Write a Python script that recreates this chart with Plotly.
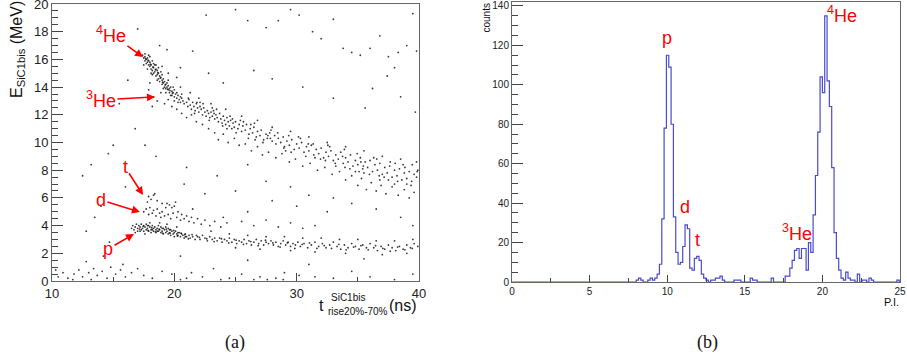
import plotly.graph_objects as go

W, H = 907, 364

# ---------------- panel (a): E_SiC1bis (MeV) vs t_rise (ns) ----------------
he4_head = [
    (17.4, 16.3), (17.5, 16.1), (17.6, 16.2), (17.6, 15.9), (17.7, 16.0), (17.7, 15.7), (17.8, 16.1), (17.8, 15.8),
    (17.9, 15.6), (17.9, 15.9), (18.0, 15.5), (18.0, 15.8), (18.1, 15.3), (18.1, 15.6), (18.2, 15.9), (18.2, 15.2),
    (18.3, 15.4), (18.3, 15.0), (18.4, 15.6), (18.4, 15.1), (18.5, 14.8), (18.5, 15.3), (18.6, 14.9), (18.6, 15.2),
    (18.7, 14.6), (18.7, 15.0), (18.8, 14.8), (18.8, 14.4), (18.9, 14.7), (18.9, 15.1), (19.0, 14.5), (19.0, 14.2),
    (19.1, 14.6), (19.1, 14.3), (19.2, 14.0), (19.2, 14.4), (19.3, 14.2), (19.3, 13.9), (19.4, 14.3), (19.4, 14.0),
    (19.5, 13.8), (19.5, 14.1), (19.6, 13.9), (19.6, 13.6), (19.7, 14.0), (19.8, 13.7), (19.8, 13.4), (19.9, 13.6),
    (20.0, 13.3), (20.0, 13.8), (20.1, 13.5), (20.2, 13.2), (20.2, 13.6), (20.3, 13.4), (20.4, 13.1), (20.5, 13.3),
    (20.5, 12.9), (20.6, 13.2), (20.7, 13.0), (20.8, 12.8), (17.5, 15.6), (17.8, 15.3), (18.0, 16.2), (18.2, 14.9),
    (18.5, 15.6), (18.6, 14.5), (19.0, 14.9), (19.3, 13.6), (19.7, 13.4), (20.0, 13.0), (17.6, 16.4), (17.9, 16.3),
    (18.1, 15.0), (18.3, 15.7), (18.7, 15.4), (19.1, 13.9), (19.5, 14.5), (19.9, 14.0), (20.3, 12.9), (20.6, 13.5),
    (17.65, 16.05), (17.85, 15.95), (18.05, 15.65), (18.25, 15.45), (18.45, 15.25), (18.65, 15.05), (18.85, 14.65),
    (19.05, 14.35), (19.25, 14.15), (19.45, 13.85), (19.65, 13.75), (19.85, 13.55),
]
he4_tail = [
    (21.0, 12.9), (21.1, 12.6), (21.2, 13.1), (21.3, 12.7), (21.4, 12.4), (21.5, 12.9), (21.6, 12.6), (21.7, 12.3),
    (21.8, 12.8), (21.9, 12.5), (22.0, 12.2), (22.1, 12.6), (22.2, 12.4), (22.3, 12.0), (22.4, 12.5), (22.5, 12.2),
    (22.6, 11.9), (22.7, 12.3), (22.8, 12.1), (22.9, 11.8), (23.0, 12.2), (23.1, 11.9), (23.2, 12.3), (23.3, 11.7),
    (23.4, 12.0), (23.5, 11.8), (23.6, 11.5), (23.7, 12.1), (23.8, 11.7), (23.9, 11.4), (24.0, 11.9), (24.1, 11.6),
    (24.2, 11.3), (24.3, 11.8), (24.4, 11.5), (24.5, 11.2), (24.6, 11.6), (24.7, 11.0), (24.8, 11.4), (24.9, 11.1),
    (25.0, 11.5), (25.2, 11.0), (25.3, 11.3), (25.5, 10.8), (25.6, 11.2), (25.8, 10.9), (25.9, 11.3), (26.1, 10.6),
    (26.2, 11.0), (26.4, 10.7), (26.5, 11.1), (26.7, 10.4), (26.8, 10.8), (27.0, 10.5), (27.1, 10.9), (27.3, 10.2),
    (27.5, 10.6), (27.6, 10.3), (27.8, 10.7), (28.0, 10.1), (28.2, 10.5), (28.3, 9.9), (28.5, 10.3), (28.7, 10.0),
    (28.9, 10.4), (29.0, 9.7), (29.2, 10.1), (29.4, 9.8), (29.6, 10.2), (29.8, 9.5), (30.0, 9.9), (30.2, 9.6),
    (30.4, 10.0), (30.6, 9.3), (30.8, 9.7), (31.0, 9.4), (31.2, 9.8), (31.4, 9.1), (31.6, 9.5), (31.8, 9.2),
    (32.0, 9.6), (32.2, 8.9), (32.4, 9.3), (32.6, 9.0), (32.8, 9.4), (33.0, 8.7), (33.2, 9.1), (33.4, 8.8),
    (33.6, 9.3), (33.8, 8.5), (34.0, 8.9), (34.2, 8.6), (34.4, 9.1), (34.6, 8.3), (34.8, 8.7), (35.0, 8.4),
    (35.2, 8.9), (35.4, 8.1), (35.6, 8.6), (35.8, 8.2), (36.0, 8.7), (36.2, 7.9), (36.4, 8.4), (36.6, 8.0),
    (36.8, 8.5), (37.0, 7.7), (37.2, 8.2), (37.4, 7.8), (37.6, 8.3), (37.8, 7.5), (38.0, 8.0), (38.2, 7.6),
    (38.4, 8.1), (38.6, 7.3), (38.8, 7.8), (39.0, 7.4), (39.2, 7.9), (39.4, 7.2), (39.6, 7.7), (39.8, 7.5),
    (39.9, 8.0), (22.1, 12.9), (23.1, 12.5), (24.3, 11.0), (25.4, 11.6), (26.6, 10.2), (27.9, 10.9), (29.1, 9.4),
    (30.3, 10.3), (31.5, 8.9), (32.7, 9.7), (33.9, 9.5), (35.1, 7.9), (36.3, 8.9), (37.5, 7.3), (38.7, 8.4),
]
he4_extra = [
    (21.15, 13.2), (21.65, 12.1), (22.35, 12.8), (22.85, 11.6), (23.45, 12.4), (23.95, 11.2), (24.55, 11.9),
    (25.05, 10.7), (25.65, 11.5), (26.05, 10.3), (26.55, 11.4), (27.25, 10.0), (27.85, 10.3), (28.45, 10.7),
    (28.95, 9.6), (29.55, 9.3), (30.15, 10.4), (30.75, 9.0), (31.35, 9.9), (31.95, 8.8), (32.55, 9.8),
    (33.15, 8.5), (33.75, 9.0), (34.35, 8.1), (34.95, 9.2), (35.45, 8.3), (35.95, 7.7), (36.55, 8.8),
    (37.15, 7.5), (37.65, 8.6), (38.25, 7.2), (38.85, 8.2), (39.35, 6.9), (39.85, 7.9), (39.45, 8.4),
    (38.05, 8.5), (36.75, 7.6), (35.25, 8.6), (33.95, 8.2), (32.35, 8.7), (30.95, 9.9), (29.35, 10.5),
    (27.65, 10.5), (26.25, 11.3), (24.75, 11.7), (23.25, 12.1), (21.85, 12.9),
]
he4_spread = [
    (18.3, 13.3), (18.6, 13.0), (18.9, 13.6), (19.2, 12.8), (19.5, 13.1), (19.8, 12.6), (20.2, 12.4), (20.6, 12.1),
    (21.0, 11.8), (21.4, 12.0), (21.8, 11.5), (22.3, 11.3), (22.8, 11.0), (23.3, 10.7), (23.6, 10.2), (24.0, 10.6),
    (24.4, 10.0), (24.9, 10.3), (25.3, 9.8), (25.8, 9.9), (26.3, 9.4), (26.8, 9.7), (27.2, 9.1), (27.7, 9.3),
    (28.3, 8.9), (28.8, 9.2), (29.4, 8.6), (29.9, 8.8), (30.5, 8.3), (31.1, 8.5), (31.7, 8.0), (32.3, 8.2),
    (32.9, 7.7), (33.5, 7.9), (34.0, 7.3), (34.5, 7.6), (35.0, 6.9), (35.3, 7.4), (35.7, 6.6), (36.1, 7.1),
    (36.5, 6.5), (36.9, 6.9), (37.3, 6.3), (37.8, 6.8), (38.3, 6.2), (38.8, 6.6), (39.2, 6.0), (39.6, 6.4),
    (35.5, 7.8), (36.8, 7.3), (38.0, 7.0), (39.0, 7.0), (34.8, 7.9), (33.2, 8.3),
    (20.5, 14.0), (21.3, 13.6), (22.0, 13.2), (23.0, 12.8), (24.2, 12.4), (25.5, 11.9), (26.8, 11.6), (28.0, 11.1),
    (29.5, 10.8), (31.0, 10.4), (32.5, 10.0), (34.0, 9.7), (35.5, 9.4), (37.0, 9.0), (38.5, 8.8), (39.8, 8.6),
    (19.0, 15.5), (19.5, 15.0), (20.2, 14.7), (18.0, 14.3), (17.9, 13.8), (18.2, 12.6),
]
p_head = [
    (16.5, 3.8), (16.6, 4.0), (16.7, 3.7), (16.8, 3.9), (16.9, 4.1), (17.0, 3.8), (17.0, 3.6), (17.1, 4.0),
    (17.2, 3.9), (17.3, 3.7), (17.3, 4.1), (17.4, 3.8), (17.5, 3.6), (17.5, 4.0), (17.6, 3.9), (17.7, 3.7),
    (17.7, 4.1), (17.8, 3.8), (17.9, 3.6), (17.9, 4.0), (18.0, 3.9), (18.1, 3.7), (18.1, 3.5), (18.2, 4.0),
    (18.3, 3.8), (18.3, 3.6), (18.4, 3.9), (18.5, 3.7), (18.5, 3.5), (18.6, 3.8), (18.7, 3.6), (18.7, 4.0),
    (18.8, 3.7), (18.9, 3.5), (18.9, 3.9), (19.0, 3.6), (19.1, 3.8), (19.1, 3.4), (19.2, 3.7), (19.3, 3.5),
    (19.3, 3.9), (19.4, 3.6), (19.5, 3.4), (19.5, 3.8), (19.6, 3.5), (19.7, 3.7), (19.7, 3.3), (19.8, 3.6),
    (19.9, 3.4), (20.0, 3.5), (20.0, 3.2), (20.1, 3.6), (20.2, 3.4), (20.3, 3.3), (20.4, 3.5), (20.5, 3.2),
    (20.6, 3.4), (20.7, 3.3), (20.8, 3.1), (20.9, 3.4), (21.0, 3.2), (21.2, 3.3), (21.3, 3.1), (21.5, 3.2),
    (21.7, 3.0), (21.8, 3.3), (16.8, 3.5), (17.6, 3.4), (18.0, 4.2), (18.8, 4.2), (19.4, 4.1), (20.2, 3.9),
    (17.2, 3.6), (17.8, 4.0), (18.2, 3.7), (18.6, 3.6), (19.0, 3.8), (19.6, 3.7), (20.3, 3.5), (20.9, 3.2),
]
p_tail = [
    (21.9, 3.2), (22.1, 3.0), (22.3, 3.3), (22.5, 3.1), (22.7, 2.9), (22.9, 3.2), (23.1, 3.0), (23.3, 3.1),
    (23.5, 2.9), (23.7, 3.1), (23.9, 2.8), (24.1, 3.0), (24.3, 2.9), (24.5, 3.1), (24.7, 2.8), (24.9, 3.0),
    (25.1, 2.7), (25.3, 2.9), (25.5, 2.8), (25.7, 3.0), (25.9, 2.7), (26.1, 2.9), (26.3, 2.6), (26.5, 2.8),
    (26.7, 3.0), (26.9, 2.7), (27.1, 2.9), (27.3, 2.6), (27.5, 2.8), (27.7, 2.7), (27.9, 2.9), (28.1, 2.6),
    (28.3, 2.8), (28.5, 2.5), (28.7, 2.7), (28.9, 2.9), (29.1, 2.6), (29.3, 2.8), (29.5, 2.5), (29.7, 2.7),
    (29.9, 2.6), (30.1, 2.8), (30.3, 2.5), (30.6, 2.7), (30.9, 2.4), (31.2, 2.6), (31.5, 2.8), (31.8, 2.5),
    (32.1, 2.7), (32.4, 2.4), (32.7, 2.6), (33.0, 2.8), (33.3, 2.5), (33.6, 2.3), (33.9, 2.6), (34.2, 2.4),
    (34.5, 2.7), (34.8, 2.5), (35.1, 2.3), (35.4, 2.6), (35.7, 2.4), (36.0, 2.7), (36.3, 2.4), (36.6, 2.2),
    (36.9, 2.5), (37.2, 2.3), (37.5, 2.6), (37.8, 2.4), (38.1, 2.2), (38.4, 2.5), (38.7, 2.3), (39.0, 2.6),
    (39.3, 2.4), (39.6, 2.7), (39.9, 2.5),
    (23.0, 3.6), (24.5, 3.4), (26.0, 3.3), (27.5, 3.2), (29.0, 3.2), (30.5, 3.1), (32.0, 3.1), (33.5, 3.0),
    (35.0, 3.0), (36.5, 2.9), (38.0, 2.9), (39.5, 3.0), (25.0, 2.4), (27.0, 2.3), (29.5, 2.2), (31.5, 2.1),
    (34.0, 2.0), (37.0, 1.9), (39.0, 2.0),
]
p_extra = [
    (17.15, 3.75), (17.45, 3.95), (17.85, 3.65), (18.15, 3.85), (18.45, 3.55), (18.75, 3.75), (19.05, 3.45),
    (19.35, 3.75), (19.65, 3.45), (19.95, 3.65), (20.25, 3.25), (20.55, 3.45), (20.85, 3.35), (21.15, 3.05),
    (21.45, 3.35), (22.05, 3.15), (22.65, 3.05), (23.25, 2.85), (23.85, 3.05), (24.45, 2.75), (25.05, 2.95),
    (25.65, 2.65), (26.25, 2.85), (26.85, 2.55), (27.45, 2.95), (28.05, 2.75), (28.65, 2.45), (29.25, 2.75),
    (29.85, 2.35), (30.45, 2.65), (31.05, 2.75), (31.65, 2.35), (32.25, 2.55), (32.85, 2.35), (33.45, 2.65),
    (34.05, 2.25), (34.65, 2.45), (35.25, 2.55), (35.85, 2.25), (36.45, 2.55), (37.05, 2.35), (37.65, 2.15),
    (38.25, 2.45), (38.85, 2.25), (39.45, 2.35),
]
d_t_points = [
    (17.5, 5.0), (17.7, 5.2), (17.9, 4.8), (18.0, 5.3), (18.2, 4.9), (18.3, 5.1), (18.5, 4.7), (18.6, 5.2),
    (18.8, 4.9), (18.9, 4.6), (19.0, 5.0), (19.2, 4.7), (19.3, 5.3), (19.5, 4.8), (19.6, 5.5), (19.7, 4.5),
    (19.9, 4.9), (20.0, 5.4), (20.2, 4.6), (20.3, 5.0), (20.5, 4.4), (20.6, 4.8), (20.8, 4.5), (21.0, 4.7),
    (21.2, 4.3), (21.4, 4.6), (21.6, 4.2), (21.9, 4.5), (22.2, 4.1), (22.5, 4.4), (22.9, 4.0), (23.3, 4.3),
    (23.8, 3.9), (24.3, 4.2), (19.4, 5.6), (19.8, 5.3), (20.1, 5.7),
    (17.9, 6.1), (18.1, 5.9), (18.3, 6.2), (17.8, 5.7), (18.6, 5.8), (19.0, 5.6), (18.4, 6.3),
    (25.5, 4.3), (26.5, 4.0), (27.5, 4.4), (28.5, 3.9), (29.5, 4.2), (30.5, 3.8), (31.5, 4.0), (24.0, 4.6),
    (26.0, 5.0), (21.5, 5.2),
]
low_noise = [
    (10.5, 0.3), (10.9, 0.6), (11.3, 0.2), (11.8, 0.5), (12.2, 0.8), (12.5, 0.3), (13.0, 0.6), (13.4, 0.9),
    (13.7, 0.4), (14.1, 0.7), (14.5, 0.2), (14.8, 1.0), (15.2, 0.5), (15.6, 0.8), (16.0, 0.3), (16.5, 0.6),
    (17.0, 0.9), (17.5, 0.4), (18.2, 0.2), (19.0, 0.7), (19.8, 0.5), (20.5, 0.1), (21.4, 0.6), (22.3, 0.3),
    (23.2, 0.9), (24.5, 0.2), (25.5, 0.5), (27.0, 0.3), (28.3, 0.2), (29.0, 0.6), (30.2, 0.4), (31.5, 0.3),
    (33.0, 0.2), (34.5, 0.7), (36.0, 0.3), (38.0, 0.1), (39.5, 0.5), (12.8, 1.4), (14.2, 1.8), (15.8, 1.2),
    (20.5, 1.8), (26.0, 1.5), (31.0, 1.2), (35.5, 1.6), (11.7, 0.1), (13.2, 0.1), (21.0, 0.2), (23.8, 0.1),
    (26.5, 0.1), (27.6, 0.1), (28.9, 0.1), (10.3, 0.8),
]
background = [
    (15.0, 17.6), (17.0, 18.2), (18.8, 17.0), (21.5, 16.6), (22.6, 19.2), (25.0, 19.6), (26.0, 18.8), (27.5, 18.3),
    (28.5, 18.8), (29.5, 19.6), (30.2, 19.2), (31.3, 18.0), (32.0, 17.5), (33.0, 18.9), (33.8, 16.8), (34.5, 16.5),
    (35.2, 16.3), (36.0, 16.8), (36.8, 17.7), (37.5, 16.2), (38.3, 16.5), (39.0, 17.0), (39.5, 19.3), (39.8, 16.6),
    (38.0, 15.4), (37.4, 14.8), (36.2, 13.9), (38.5, 13.3), (35.6, 12.5), (39.7, 12.2), (33.0, 13.2), (30.5, 14.0),
    (28.0, 14.6), (26.5, 15.2), (24.0, 14.3), (22.8, 15.0), (20.5, 15.4), (19.4, 16.7), (16.2, 14.5), (15.5, 12.8),
    (16.8, 11.0), (15.0, 9.8), (14.6, 9.2), (13.2, 8.4), (12.5, 7.6), (18.5, 9.0), (21.0, 8.2), (23.5, 7.6),
    (26.0, 8.4), (27.5, 7.2), (29.5, 6.8), (31.0, 6.2), (33.0, 6.0), (34.5, 5.6), (36.5, 5.2), (38.5, 4.6),
    (39.5, 4.0), (32.5, 5.0), (30.0, 5.4), (28.0, 5.8), (25.0, 6.5), (22.5, 6.3), (20.8, 7.0), (16.0, 6.8),
    (14.0, 5.4), (12.8, 3.6), (14.7, 2.8), (13.5, 4.6), (17.6, 9.8),
]

# ---------------- panel (b): P.I. histogram, counts per bin ----------------
pi_bin_start = 7.85
pi_bin_width = 0.15
pi_counts = [
    0, 1, 2, 1, 0, 0, 1, 2, 1, 2, 4, 9,                       # 7.85 - 9.65
    32, 78, 115, 109, 80, 33, 15, 9, 10, 18, 29, 27,          # p, d
    7, 6, 12, 13, 11, 4, 2, 1, 0, 1, 1, 2, 2, 3, 1,           # t
    0, 0, 0, 0, 1, 1, 1, 0, 0, 0, 0, 2, 1, 1, 0, 0, 0, 0, 0, 0,
    2, 0, 0, 0, 0, 0,
    3, 3, 7, 11, 16, 17, 12, 17, 17, 6, 20, 15,                # 3He
    34, 54, 76, 104, 96, 135, 102, 89, 58, 25, 12, 6,          # 4He
    2, 1, 5, 2, 1, 1, 0, 4, 0, 1, 1, 0, 2, 1,
    0, 0, 0, 0, 0, 0, 0, 0, 0, 0, 1,
]

# axis ranges and ticks
a_xrange, a_yrange = [10, 40], [0, 20]
a_xticks = [10, 20, 30, 40]
a_yticks = [0, 2, 4, 6, 8, 10, 12, 14, 16, 18, 20]
b_xrange, b_yrange = [0, 25], [0, 142]
b_xticks = [0, 5, 10, 15, 20, 25]
b_yticks = [0, 20, 40, 60, 80, 100, 120, 140]

# labels (panel a arrows: text position -> arrow tip, in data units)
a_labels = [
    ("<sup>4</sup>He", 14.82, 17.83, 17.44, 16.17),
    ("<sup>3</sup>He", 14.00, 13.07, 18.42, 13.29),
    ("t", 15.97, 8.23, 17.44, 6.21),
    ("d", 14.00, 5.85, 17.19, 4.98),
    ("p", 14.58, 2.31, 16.70, 3.39),
]
b_labels = [
    ("p", 9.98, 123.8),
    ("<sup>4</sup>He", 21.25, 135.9),
    ("d", 11.14, 38.0),
    ("t", 11.94, 21.3),
    ("<sup>3</sup>He", 18.38, 24.9),
]


def px(x):
    return x / W


def py(y):
    return 1 - y / H


groups = [he4_head, he4_tail, he4_extra, he4_spread, p_head, p_tail, p_extra, d_t_points, low_noise, background]
sx = [pt[0] for g in groups for pt in g]
sy = [pt[1] for g in groups for pt in g]

edges = [pi_bin_start + i * pi_bin_width for i in range(len(pi_counts) + 1)]
hx = [b_xrange[0]] + edges + [b_xrange[1]]
hy = [0] + pi_counts + [0, 0]

fig = go.Figure()
fig.add_trace(go.Scatter(
    x=sx, y=sy, mode="markers", xaxis="x", yaxis="y",
    marker=dict(size=1.8, color="rgba(0,0,0,0.78)", line=dict(width=0)),
    showlegend=False, hoverinfo="skip",
))
fig.add_trace(go.Scatter(
    x=hx, y=hy, mode="lines", line=dict(shape="hv", color="#4b4bcc", width=1.2),
    xaxis="x2", yaxis="y2", showlegend=False, hoverinfo="skip",
))

SANS = "Liberation Sans, Arial, Helvetica, sans-serif"
tickfont_a = dict(family=SANS, size=13, color="#222")
tickfont_b = dict(family=SANS, size=10, color="#222")
axcommon = dict(showgrid=False, zeroline=False, showline=True, linecolor="#666", linewidth=1,
                mirror=True, ticks="inside", tickcolor="#444", tickwidth=1, automargin=False,
                ticklabeloverflow="allow")

fig.update_layout(
    width=W, height=H, margin=dict(l=0, r=0, t=0, b=0, pad=0),
    paper_bgcolor="white", plot_bgcolor="white",
    xaxis=dict(domain=[px(52), px(419)], range=a_xrange, tickvals=a_xticks, ticklen=8,
               tickfont=tickfont_a, anchor="y",
               minor=dict(ticks="inside", ticklen=4, dtick=5, tickcolor="#444"), **axcommon),
    yaxis=dict(domain=[py(281), py(4)], range=a_yrange, tickvals=a_yticks, ticklen=11,
               tickfont=tickfont_a, anchor="x",
               minor=dict(ticks="inside", ticklen=6, dtick=0.5, tickcolor="#444"), **axcommon),
    xaxis2=dict(domain=[px(512), px(900)], range=b_xrange, tickvals=b_xticks, ticklen=7,
                tickfont=tickfont_b, anchor="y2",
                minor=dict(ticks="inside", ticklen=4, dtick=2.5, tickcolor="#444"), **axcommon),
    yaxis2=dict(domain=[py(282), py(2)], range=b_yrange, tickvals=b_yticks, ticklen=11,
                tickfont=tickfont_b, anchor="x2",
                minor=dict(ticks="inside", ticklen=6, dtick=5, tickcolor="#444"), **axcommon),
)

red_font = dict(family=SANS, size=18, color="#ff0000")
ann = []
for text, tx, ty, hx_, hy_ in a_labels:
    ann.append(dict(x=hx_, y=hy_, ax=tx, ay=ty, xref="x", yref="y", axref="x", ayref="y",
                    text=text, font=red_font, showarrow=True, arrowhead=2, arrowsize=1,
                    arrowwidth=1.6, arrowcolor="#ff0000", standoff=0, startstandoff=0))
for text, tx, ty in b_labels:
    ann.append(dict(x=tx, y=ty, xref="x2", yref="y2", text=text, font=red_font, showarrow=False))

title_font = dict(family=SANS, size=16, color="#111")
small_font = dict(family=SANS, size=10, color="#111")
ann += [
    dict(x=px(18), y=py(50), xref="paper", yref="paper", text="E<sub>SiC1bis</sub> (MeV)",
         textangle=-90, font=title_font, showarrow=False, xanchor="center", yanchor="middle"),
    dict(x=px(326), y=py(305), xref="paper", yref="paper", text="t", font=title_font,
         showarrow=False, xanchor="right", yanchor="middle"),
    dict(x=px(329), y=py(297), xref="paper", yref="paper", text="SiC1bis", font=small_font,
         showarrow=False, xanchor="left", yanchor="middle"),
    dict(x=px(326), y=py(311), xref="paper", yref="paper", text="rise20%-70%", font=small_font,
         showarrow=False, xanchor="left", yanchor="middle"),
    dict(x=px(419), y=py(305), xref="paper", yref="paper", text="(ns)", font=title_font,
         showarrow=False, xanchor="right", yanchor="middle"),
    dict(x=px(486), y=py(2), xref="paper", yref="paper", text="counts", textangle=-90,
         font=dict(family=SANS, size=10, color="#111"),
         showarrow=False, xanchor="center", yanchor="top"),
    dict(x=px(901), y=py(302), xref="paper", yref="paper", text="P.I.",
         font=dict(family=SANS, size=11, color="#111"),
         showarrow=False, xanchor="right", yanchor="middle"),
    dict(x=px(235), y=py(342), xref="paper", yref="paper", text="(a)",
         font=dict(family="Liberation Serif, DejaVu Serif, serif", size=18, color="#111"),
         showarrow=False, xanchor="center", yanchor="middle"),
    dict(x=px(707), y=py(342), xref="paper", yref="paper", text="(b)",
         font=dict(family="Liberation Serif, DejaVu Serif, serif", size=18, color="#111"),
         showarrow=False, xanchor="center", yanchor="middle"),
]
fig.update_layout(annotations=ann)

fig.write_html("out.html", config={"displayModeBar": False},
               post_script="document.body.style.margin='0px';")
